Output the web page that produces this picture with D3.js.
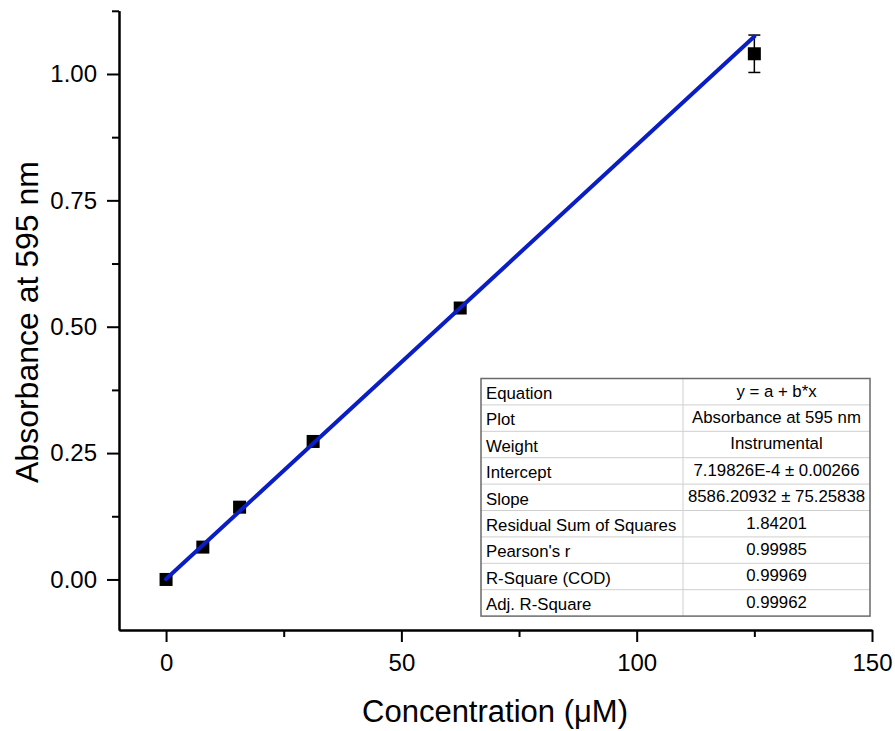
<!DOCTYPE html>
<html>
<head>
<meta charset="utf-8">
<script src="https://cdn.jsdelivr.net/npm/d3@7"></script>
<style>
  body { margin: 0; background: #fff; }
  svg { font-family: Arial, "Liberation Sans", sans-serif; }
</style>
</head>
<body>
<div id="chart"></div>
<script>
// standard curve: two-fold dilutions
const concentration = [0, 7.8125, 15.625, 31.25, 62.5, 125];
const absorbance = [0.0, 0.064, 0.143, 0.273, 0.537, 1.040];
const absError = [0, 0, 0, 0, 0, 0.037];

// linear fit y = a + b*x (b given per M, x plotted in µM)
const fitIntercept = 7.19826e-4;
const fitSlopePerM = 8586.20932;

const xTicks = [0, 50, 100, 150];
const xMinorTicks = [25, 75, 125];
const yTicks = [0, 0.25, 0.5, 0.75, 1.0];
const yMinorTicks = [0.125, 0.375, 0.625, 0.875, 1.125];

const tableLabels = ["Equation", "Plot", "Weight", "Intercept", "Slope",
  "Residual Sum of Squares", "Pearson's r", "R-Square (COD)", "Adj. R-Square"];
const tableValues = ["y = a + b*x", "Absorbance at 595 nm", "Instrumental",
  "7.19826E-4 \u00b1 0.00266", "8586.20932 \u00b1 75.25838", "1.84201",
  "0.99985", "0.99969", "0.99962"];

const width = 895, height = 731;
const svg = d3.select("#chart").append("svg")
  .attr("width", width)
  .attr("height", height);

const x = d3.scaleLinear().domain([-10, 150]).range([119, 872]);
const y = d3.scaleLinear().domain([-0.1, 1.125]).range([630, 10.8]);

// axes: minor ticks first, then majors with labels
const xMinor = d3.axisBottom(x).tickValues(xMinorTicks).tickSize(7).tickFormat("").tickSizeOuter(0);
const xMajor = d3.axisBottom(x).tickValues(xTicks).tickSize(12).tickPadding(12).tickSizeOuter(0)
  .tickFormat(d3.format("d"));
const yMinor = d3.axisLeft(y).tickValues(yMinorTicks).tickSize(7).tickFormat("").tickSizeOuter(0);
const yMajor = d3.axisLeft(y).tickValues(yTicks).tickSize(12).tickPadding(10).tickSizeOuter(0)
  .tickFormat(d3.format(".2f"));

function styleAxis(g) {
  g.selectAll("path, line").attr("stroke", "#000").attr("stroke-width", 2);
  g.selectAll("text").attr("fill", "#000").style("font-size", "24px")
    .style("font-family", "Arial, 'Liberation Sans', sans-serif");
}

svg.append("g").attr("transform", `translate(0,${y.range()[0]})`).call(xMinor).call(styleAxis);
svg.append("g").attr("transform", `translate(0,${y.range()[0]})`).call(xMajor).call(styleAxis);
svg.append("g").attr("transform", `translate(${x.range()[0]},0)`).call(yMinor).call(styleAxis);
svg.append("g").attr("transform", `translate(${x.range()[0]},0)`).call(yMajor).call(styleAxis);

// axis titles
svg.append("text")
  .attr("x", 495).attr("y", 722)
  .attr("text-anchor", "middle")
  .style("font-size", "31px")
  .text("Concentration (\u03bcM)");

svg.append("text")
  .attr("transform", "translate(38,322) rotate(-90)")
  .attr("text-anchor", "middle")
  .style("font-size", "32px")
  .text("Absorbance at 595 nm");

const points = concentration.map((c, i) => ({ x: c, y: absorbance[i], err: absError[i] }));

// error bars
const eb = svg.append("g").attr("stroke", "#000").attr("stroke-width", 1.5);
points.filter(d => d.err > 0).forEach(d => {
  eb.append("line").attr("x1", x(d.x)).attr("x2", x(d.x))
    .attr("y1", y(d.y - d.err)).attr("y2", y(d.y + d.err));
  [d.y - d.err, d.y + d.err].forEach(v => {
    eb.append("line").attr("x1", x(d.x) - 6).attr("x2", x(d.x) + 6)
      .attr("y1", y(v)).attr("y2", y(v));
  });
});

// square markers
const ms = 13;
svg.append("g").selectAll("rect")
  .data(points)
  .enter()
  .append("rect")
  .attr("x", d => x(d.x) - ms / 2)
  .attr("y", d => y(d.y) - ms / 2)
  .attr("width", ms)
  .attr("height", ms)
  .attr("fill", "#000");

// fitted line over the data range
const fitX = d3.extent(concentration);
svg.append("path")
  .datum(fitX.map(c => [c, fitIntercept + fitSlopePerM * c * 1e-6]))
  .attr("d", d3.line().x(d => x(d[0])).y(d => y(d[1])))
  .attr("stroke", "#0a1ec4")
  .attr("stroke-width", 4)
  .attr("stroke-linecap", "round")
  .attr("fill", "none");

// fit results table
const tbl = { left: 481, top: 378.5, colSplit: 683, right: 870, rowH: 26.4 };
const tg = svg.append("g").style("font-size", "16.8px");
tg.append("rect")
  .attr("x", tbl.left).attr("y", tbl.top)
  .attr("width", tbl.right - tbl.left)
  .attr("height", tbl.rowH * tableLabels.length)
  .attr("fill", "#fff");

tableLabels.forEach((lab, i) => {
  const top = tbl.top + i * tbl.rowH;
  if (i > 0) {
    tg.append("line").attr("x1", tbl.left).attr("x2", tbl.right)
      .attr("y1", top).attr("y2", top)
      .attr("stroke", "#cfcfcf").attr("stroke-width", 1);
  }
  tg.append("text").attr("x", tbl.left + 5).attr("y", top + 20.5).text(lab);
  tg.append("text").attr("x", (tbl.colSplit + tbl.right) / 2).attr("y", top + 18)
    .attr("text-anchor", "middle").text(tableValues[i]);
});
tg.append("line").attr("x1", tbl.colSplit).attr("x2", tbl.colSplit)
  .attr("y1", tbl.top).attr("y2", tbl.top + tbl.rowH * tableLabels.length)
  .attr("stroke", "#cfcfcf").attr("stroke-width", 1);
tg.append("rect")
  .attr("x", tbl.left).attr("y", tbl.top)
  .attr("width", tbl.right - tbl.left)
  .attr("height", tbl.rowH * tableLabels.length)
  .attr("fill", "none").attr("stroke", "#6a6a6a").attr("stroke-width", 1.5);
</script>
</body>
</html>
